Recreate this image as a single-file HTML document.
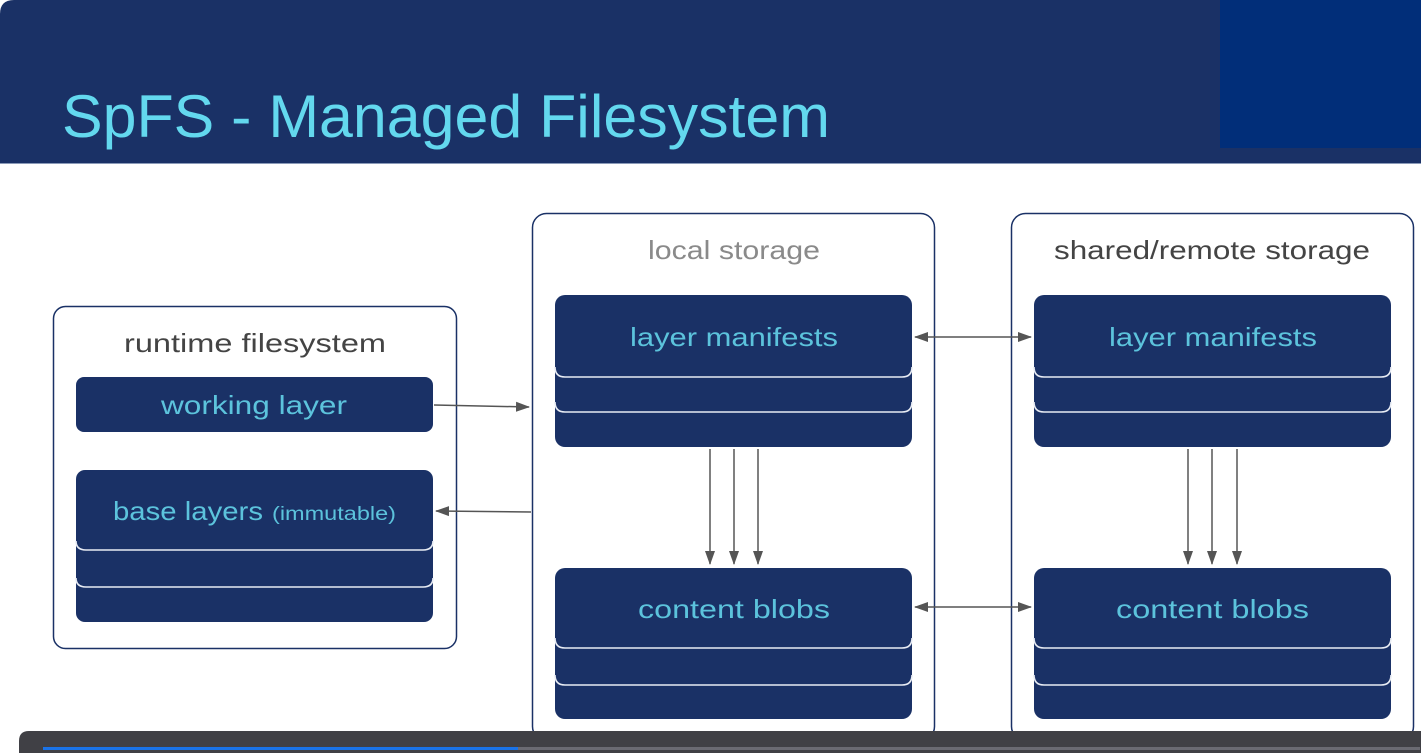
<!DOCTYPE html>
<html><head><meta charset="utf-8"><style>
html,body{margin:0;padding:0;background:#fff;}
svg{display:block;}
text{font-family:"Liberation Sans",sans-serif;}
</style></head><body>
<svg width="1421" height="753" viewBox="0 0 1421 753" xmlns="http://www.w3.org/2000/svg">
<defs>
<marker id="ah" markerWidth="14" markerHeight="12" refX="13" refY="6" orient="auto" markerUnits="userSpaceOnUse">
<path d="M0,1 L14,6 L0,11 z" fill="#555"/></marker>
<marker id="ahs" markerWidth="14" markerHeight="12" refX="1" refY="6" orient="auto" markerUnits="userSpaceOnUse">
<path d="M14,1 L0,6 L14,11 z" fill="#555"/></marker>
</defs>
<rect width="1421" height="753" fill="#fff"/>
<path d="M0,14 Q0,0 14,0 L1421,0 L1421,163 L0,163 z" fill="#1a3166"/>
<rect x="1220" y="0" width="201" height="148" fill="#012e79"/>
<line x1="0" y1="163.5" x2="1421" y2="163.5" stroke="#8a9ab8" stroke-width="1"/>
<text x="62" y="137" font-size="60" fill="#63d8ee" textLength="768" lengthAdjust="spacingAndGlyphs">SpFS - Managed Filesystem</text>

<rect x="53.5" y="306.5" width="403" height="342" rx="12" fill="#fff" stroke="#1a3166" stroke-width="1.5"/>
<rect x="532.5" y="213.5" width="402" height="527" rx="14" fill="#fff" stroke="#1a3166" stroke-width="1.5"/>
<rect x="1011.5" y="213.5" width="402" height="527" rx="14" fill="#fff" stroke="#1a3166" stroke-width="1.5"/>
<text x="124" y="352" font-size="26" fill="#444" textLength="262" lengthAdjust="spacingAndGlyphs">runtime filesystem</text>
<text x="648" y="259" font-size="26" fill="#8a8a8a" textLength="172" lengthAdjust="spacingAndGlyphs">local storage</text>
<text x="1054" y="259" font-size="26" fill="#444" textLength="316" lengthAdjust="spacingAndGlyphs">shared/remote storage</text>

<rect x="76" y="377" width="357" height="55" rx="8" fill="#1a3166"/>
<text x="161" y="414" font-size="26" fill="#5cc3dc" textLength="186" lengthAdjust="spacingAndGlyphs">working layer</text>

<g fill="#1a3166">
<rect x="76" y="470" width="357" height="152" rx="9"/>
<rect x="555" y="295" width="357" height="152" rx="10"/>
<rect x="1034" y="295" width="357" height="152" rx="10"/>
<rect x="555" y="568" width="357" height="151" rx="10"/>
<rect x="1034" y="568" width="357" height="151" rx="10"/>
</g>
<g stroke="#e8ecf4" stroke-width="1.6" fill="none">
<path d="M76,541 Q76,550 86,550 L423,550 Q433,550 433,541"/>
<path d="M76,578 Q76,587 86,587 L423,587 Q433,587 433,578"/>
<path d="M555,367 Q555,377 565,377 L902,377 Q912,377 912,367"/>
<path d="M555,402 Q555,412 565,412 L902,412 Q912,412 912,402"/>
<path d="M1034,367 Q1034,377 1044,377 L1381,377 Q1391,377 1391,367"/>
<path d="M1034,402 Q1034,412 1044,412 L1381,412 Q1391,412 1391,402"/>
<path d="M555,638 Q555,648 565,648 L902,648 Q912,648 912,638"/>
<path d="M555,675 Q555,685 565,685 L902,685 Q912,685 912,675"/>
<path d="M1034,638 Q1034,648 1044,648 L1381,648 Q1391,648 1391,638"/>
<path d="M1034,675 Q1034,685 1044,685 L1381,685 Q1391,685 1391,675"/>
</g>
<text x="113" y="520" font-size="26" fill="#5cc3dc" textLength="150" lengthAdjust="spacingAndGlyphs">base layers</text>
<text x="272" y="520" font-size="19" fill="#5cc3dc" textLength="124" lengthAdjust="spacingAndGlyphs">(immutable)</text>
<text x="630" y="346" font-size="26" fill="#5cc3dc" textLength="208" lengthAdjust="spacingAndGlyphs">layer manifests</text>
<text x="1109" y="346" font-size="26" fill="#5cc3dc" textLength="208" lengthAdjust="spacingAndGlyphs">layer manifests</text>
<text x="638" y="618" font-size="26" fill="#5cc3dc" textLength="192" lengthAdjust="spacingAndGlyphs">content blobs</text>
<text x="1116" y="618" font-size="26" fill="#5cc3dc" textLength="193" lengthAdjust="spacingAndGlyphs">content blobs</text>

<g stroke="#555" stroke-width="1.5" fill="none">
<line x1="434" y1="405" x2="529" y2="407" marker-end="url(#ah)"/>
<line x1="531" y1="512" x2="436" y2="511" marker-end="url(#ah)"/>
<line x1="915" y1="337" x2="1031" y2="337" marker-start="url(#ahs)" marker-end="url(#ah)"/>
<line x1="915" y1="607" x2="1031" y2="607" marker-start="url(#ahs)" marker-end="url(#ah)"/>
<line x1="710" y1="449" x2="710" y2="564" marker-end="url(#ah)"/>
<line x1="734" y1="449" x2="734" y2="564" marker-end="url(#ah)"/>
<line x1="758" y1="449" x2="758" y2="564" marker-end="url(#ah)"/>
<line x1="1188" y1="449" x2="1188" y2="564" marker-end="url(#ah)"/>
<line x1="1212" y1="449" x2="1212" y2="564" marker-end="url(#ah)"/>
<line x1="1237" y1="449" x2="1237" y2="564" marker-end="url(#ah)"/>
</g>

<path d="M19,741 Q19,731 29,731 L1421,731 L1421,753 L19,753 z" fill="#404045"/>
<rect x="43" y="747" width="1377" height="3" fill="#6a6a72"/>
<rect x="43" y="747" width="475" height="3" fill="#1a73e8"/>
</svg>
</body></html>
